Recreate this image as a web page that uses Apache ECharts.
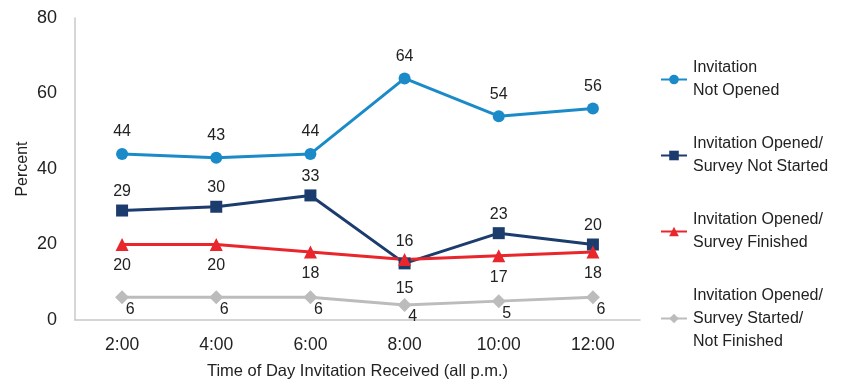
<!DOCTYPE html>
<html>
<head>
<meta charset="utf-8">
<style>
  html, body { margin: 0; padding: 0; background: #fff; }
  #chart { width: 852px; height: 385px; }
</style>
<script src="https://cdn.jsdelivr.net/npm/echarts@6/dist/echarts.min.js"></script>
</head>
<body>
<div id="chart"></div>
<script>
// Share of invitations by status, by time of day the invitation arrived
var categories = ['2:00', '4:00', '6:00', '8:00', '10:00', '12:00'];
var notOpened = [44, 43, 44, 64, 54, 56];
var openedNotStarted = [29, 30, 33, 15, 23, 20];
var openedFinished = [20, 20, 18, 16, 17, 18];
var openedStartedNotFinished = [6, 6, 6, 4, 5, 6];
var yTicks = [0, 20, 40, 60, 80];

var seriesNames = [
  'Invitation\nNot Opened',
  'Invitation Opened/\nSurvey Not Started',
  'Invitation Opened/\nSurvey Finished',
  'Invitation Opened/\nSurvey Started/\nNot Finished'
];

var FONT = 'Liberation Sans, Arial, sans-serif';
var LH = 23;

function labelCfg(extra) {
  return Object.assign({
    show: true,
    fontFamily: FONT,
    fontSize: 16,
    color: '#222'
  }, extra);
}

// One legend block per series so each icon sits on the first line of its text
function legendFor(name, top) {
  var lines = name.split('\n').length;
  return {
    data: [name],
    left: 655,
    top: top,
    orient: 'vertical',
    itemWidth: 26,
    itemHeight: 12,
    selectedMode: false,
    textStyle: {
      fontFamily: FONT,
      fontSize: 16,
      color: '#222',
      lineHeight: LH,
      padding: [(lines - 1) * LH, 0, 0, 1]
    }
  };
}

var chart = echarts.init(document.getElementById('chart'), null, { renderer: 'canvas' });

chart.setOption({
  animation: false,
  backgroundColor: '#ffffff',
  grid: { left: 75, right: 212, top: 18, bottom: 65, outerBoundsMode: 'none', containLabel: false },
  legend: [
    legendFor(seriesNames[0], 40),
    legendFor(seriesNames[1], 116),
    legendFor(seriesNames[2], 192),
    legendFor(seriesNames[3], 256)
  ],
  xAxis: {
    type: 'category',
    data: categories,
    boundaryGap: true,
    name: 'Time of Day Invitation Received (all p.m.)',
    nameLocation: 'middle',
    nameGap: 43,
    nameTextStyle: { fontFamily: FONT, fontSize: 16.5, color: '#222' },
    axisLine: { lineStyle: { color: '#c8c8c8', width: 1.5 } },
    axisTick: { show: false },
    axisLabel: { fontFamily: FONT, fontSize: 17.5, color: '#222', margin: 16 }
  },
  yAxis: {
    type: 'value',
    min: yTicks[0],
    max: yTicks[yTicks.length - 1],
    interval: 20,
    name: 'Percent',
    nameLocation: 'middle',
    nameGap: 44,
    nameMoveOverlap: false,
    nameTextStyle: { fontFamily: FONT, fontSize: 16, color: '#222' },
    axisLine: { show: true, lineStyle: { color: '#c8c8c8', width: 1.5 } },
    axisTick: { show: false },
    splitLine: { show: false },
    axisLabel: { fontFamily: FONT, fontSize: 18, color: '#222', margin: 18 }
  },
  series: [
    {
      name: seriesNames[0],
      type: 'line',
      data: notOpened,
      symbol: 'circle',
      symbolSize: 12,
      color: '#1b8ac8',
      lineStyle: { width: 3, color: '#1b8ac8' },
      label: labelCfg({ position: 'top', distance: 8 })
    },
    {
      name: seriesNames[1],
      type: 'line',
      data: openedNotStarted.map(function (v, i) {
        return i === 3
          ? { value: v, label: { position: 'bottom', distance: 11 } }
          : v;
      }),
      symbol: 'rect',
      symbolSize: 12,
      color: '#1d3c6e',
      lineStyle: { width: 3, color: '#1d3c6e' },
      label: labelCfg({ position: 'top', distance: 5 })
    },
    {
      name: seriesNames[2],
      type: 'line',
      data: openedFinished.map(function (v, i) {
        return i === 3
          ? { value: v, label: { position: 'top', distance: 4 } }
          : v;
      }),
      symbol: 'triangle',
      symbolSize: 13,
      color: '#e8262b',
      lineStyle: { width: 3, color: '#e8262b' },
      label: labelCfg({ position: 'bottom', distance: 7 })
    },
    {
      name: seriesNames[3],
      type: 'line',
      data: openedStartedNotFinished,
      symbol: 'diamond',
      symbolSize: 14,
      color: '#bcbcbc',
      lineStyle: { width: 3, color: '#bcbcbc' },
      label: labelCfg({ position: 'bottom', distance: 0, offset: [8, -3] })
    }
  ]
});
</script>
</body>
</html>
